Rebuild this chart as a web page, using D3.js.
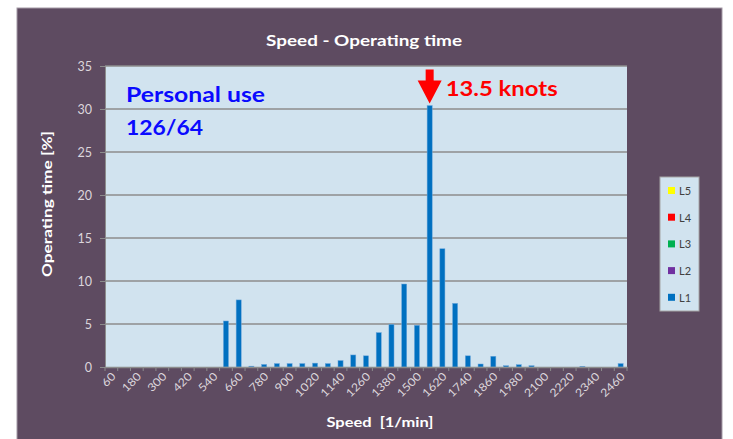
<!DOCTYPE html>
<html>
<head>
<meta charset="utf-8">
<script src="https://cdn.jsdelivr.net/npm/d3@7"></script>
<style>
  html, body { margin: 0; padding: 0; background: #fff; }
  svg { display: block; font-family: Lato, "Open Sans", sans-serif; }
</style>
</head>
<body>
<svg id="chart" width="733" height="439"></svg>
<script>
// speed classes [1/min]
const speeds = [60, 120, 180, 240, 300, 360, 420, 480, 540, 600, 660, 720, 780, 840, 900,
  960, 1020, 1080, 1140, 1200, 1260, 1320, 1380, 1440, 1500, 1560, 1620, 1680, 1740,
  1800, 1860, 1920, 1980, 2040, 2100, 2160, 2220, 2280, 2340, 2400, 2460];

// operating time [%] of load level L1 (other levels are empty)
const l1Values = [0, 0, 0, 0, 0, 0, 0, 0, 0, 5.35, 7.8, 0.1, 0.3, 0.4, 0.4,
  0.4, 0.45, 0.4, 0.75, 1.4, 1.3, 4.0, 4.95, 9.65, 4.85, 30.4, 13.75, 7.4, 1.3,
  0.35, 1.25, 0.15, 0.27, 0.15, 0, 0, 0, 0.08, 0, 0, 0.4];

const yTicks = [0, 5, 10, 15, 20, 25, 30, 35];

const seriesNames = ["L5", "L4", "L3", "L2", "L1"];
const seriesColors = ["#ffff00", "#ff0000", "#00b050", "#7030a0", "#0070c0"];

const peakSpeed = 1560;
const peakLabel = "13.5 knots";
const noteLines = ["Personal use", "126/64"];

const svg = d3.select("#chart");
const plot = { left: 105, right: 627, top: 66, bottom: 367 };

// stretched text, the original is a wide Calibri
const wide = (sel, len) => sel.attr("textLength", len).attr("lengthAdjust", "spacingAndGlyphs");

// panel background
svg.append("rect")
  .attr("x", 17).attr("y", 8).attr("width", 705).attr("height", 445)
  .attr("fill", "#5e4b61").attr("stroke", "#a49aa6").attr("stroke-width", 1);

const x = d3.scaleBand()
  .domain(speeds)
  .range([plot.left, plot.right])
  .paddingInner(0.6)
  .paddingOuter(0.3);
const step = x.step();

const y = d3.scaleLinear().domain([0, 35]).range([plot.bottom, plot.top]);

// plot area
svg.append("rect")
  .attr("x", plot.left).attr("y", plot.top)
  .attr("width", plot.right - plot.left).attr("height", plot.bottom - plot.top)
  .attr("fill", "#d1e3ef");

// gridlines
svg.append("g").selectAll("line")
  .data(yTicks.filter((d) => d > 0))
  .join("line")
  .attr("x1", plot.left).attr("x2", plot.right)
  .attr("y1", (d) => y(d)).attr("y2", (d) => y(d))
  .attr("stroke", "#8c8c8c").attr("stroke-width", 1.3);

// bars
const barColor = seriesColors[seriesNames.indexOf("L1")];
svg.append("g").selectAll("rect")
  .data(speeds.map((s, i) => ({ s, v: l1Values[i] })).filter((d) => d.v > 0))
  .join("rect")
  .attr("x", (d) => x(d.s))
  .attr("y", (d) => y(d.v))
  .attr("width", x.bandwidth())
  .attr("height", (d) => y(0) - y(d.v))
  .attr("fill", barColor)
  .attr("stroke", "#6fa8dc").attr("stroke-width", 0.5);

// y axis
const yAxis = svg.append("g")
  .attr("transform", `translate(${plot.left},0)`)
  .call(d3.axisLeft(y).tickValues(yTicks).tickSize(5).tickPadding(8));
yAxis.select(".domain").attr("stroke", "#8c8c8c");
yAxis.selectAll(".tick line").attr("stroke", "#8c8c8c");
yAxis.selectAll(".tick text")
  .attr("fill", "#dcd6dc").attr("font-size", 12.5)
  .attr("font-family", "Lato, sans-serif");

// x axis
const xAxis = svg.append("g")
  .attr("transform", `translate(0,${plot.bottom})`)
  .call(d3.axisBottom(x).tickSize(0).tickSizeOuter(0)
    .tickFormat((d, i) => (i % 2 === 0 ? d : "")));
xAxis.select(".domain").attr("stroke", "#8c8c8c").attr("stroke-width", 1.3);
xAxis.selectAll(".tick text")
  .attr("fill", "#dcd6dc").attr("font-size", 11)
  .attr("font-family", "Lato, sans-serif")
  .attr("text-anchor", "end")
  .attr("dy", null)
  .attr("transform", "translate(3,8) rotate(-45)")
  .each(function (d, i) {
    if (i % 2 === 0) wide(d3.select(this), String(d).length * 7.3);
  });
// tick marks on band boundaries
xAxis.append("g").selectAll("line")
  .data(speeds)
  .join("line")
  .attr("x1", (d) => x(d) + x.bandwidth() / 2 + step / 2)
  .attr("x2", (d) => x(d) + x.bandwidth() / 2 + step / 2)
  .attr("y1", 0).attr("y2", 4)
  .attr("stroke", "#8c8c8c");
xAxis.append("line")
  .attr("x1", plot.left).attr("x2", plot.left)
  .attr("y1", 0).attr("y2", 4).attr("stroke", "#8c8c8c");

// titles
svg.append("text")
  .attr("x", 364).attr("y", 46)
  .attr("text-anchor", "middle")
  .attr("fill", "#fff").attr("font-weight", "bold").attr("font-size", 15.5)
  .text("Speed - Operating time")
  .call(wide, 196);

svg.append("text")
  .attr("transform", `translate(52,204) rotate(-90)`)
  .attr("text-anchor", "middle")
  .attr("fill", "#fff").attr("font-weight", "bold").attr("font-size", 14)
  .text("Operating time [%]")
  .call(wide, 146);

svg.append("text")
  .attr("x", 380).attr("y", 427)
  .attr("text-anchor", "middle")
  .attr("fill", "#fff").attr("font-weight", "bold").attr("font-size", 14)
  .style("white-space", "pre")
  .text("Speed  [1/min]")
  .call(wide, 107);

// annotation: personal use
const noteWidths = [139, 77];
svg.append("g").selectAll("text")
  .data(noteLines)
  .join("text")
  .attr("x", 126)
  .attr("y", (d, i) => 102 + i * 33)
  .attr("fill", "#0a0aff").attr("font-weight", "bold").attr("font-size", 20)
  .text((d) => d)
  .attr("textLength", (d, i) => noteWidths[i])
  .attr("lengthAdjust", "spacingAndGlyphs");

// annotation: peak arrow
const ax = x(peakSpeed) + x.bandwidth() / 2;
const tipY = y(l1Values[speeds.indexOf(peakSpeed)]) - 2;
svg.append("path")
  .attr("d", `M${ax - 4},${tipY - 34} L${ax + 4},${tipY - 34} L${ax + 4},${tipY - 23}
    L${ax + 12},${tipY - 23} L${ax},${tipY} L${ax - 12},${tipY - 23} L${ax - 4},${tipY - 23} Z`)
  .attr("fill", "#ff0000");
svg.append("text")
  .attr("x", ax + 16).attr("y", tipY - 8)
  .attr("fill", "#ff0000").attr("font-weight", "bold").attr("font-size", 20)
  .text(peakLabel)
  .call(wide, 112);

// legend
const legend = svg.append("g").attr("transform", "translate(660,177)");
legend.append("rect")
  .attr("width", 39).attr("height", 134)
  .attr("fill", "#d1e3ef").attr("stroke", "#a6a6a6");
const items = legend.selectAll("g.item")
  .data(seriesNames)
  .join("g")
  .attr("class", "item")
  .attr("transform", (d, i) => `translate(0,${14 + i * 26.7})`);
items.append("rect")
  .attr("x", 8).attr("y", -4).attr("width", 7).attr("height", 7)
  .attr("fill", (d, i) => seriesColors[i]);
items.append("text")
  .attr("x", 19).attr("y", 4)
  .attr("fill", "#404040").attr("font-size", 11)
  .text((d) => d);
</script>
</body>
</html>
